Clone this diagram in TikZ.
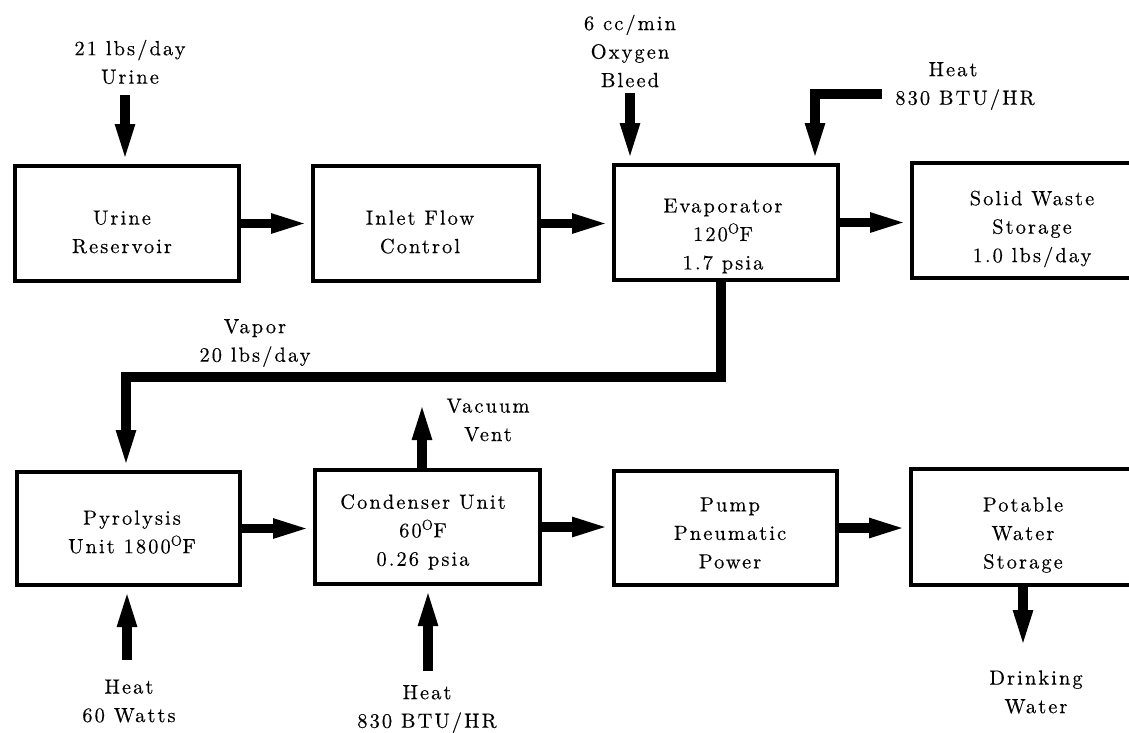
\documentclass[tikz,border=0pt]{standalone}
\usepackage{fontspec}
\newfontfamily\diagfont{lmroman10-regular.otf}[LetterSpace=10,FakeBold=0.3]
\usetikzlibrary{arrows.meta,calc}
\begin{document}
\begin{tikzpicture}[x=1pt,y=-1pt,
  box/.style={draw,line width=4pt,inner sep=0pt},
  txt/.style={align=center,inner sep=0pt,
    font=\diagfont\fontsize{20.5}{28.5}\selectfont},
  flow/.style={line width=9.5pt,line join=miter,
    -{Triangle[length=40pt,width=17pt]}}]
\clip (0,0) rectangle (1129,732);
\fill[white] (0,0) rectangle (1129,732);
% boxes
\node[box,minimum width=224pt,minimum height=115pt] (ur) at (127,223.5) {};
\node[box,minimum width=226pt,minimum height=115pt] (if) at (426,223.5) {};
\node[box,minimum width=224pt,minimum height=115pt] (ev) at (726,222.5) {};
\node[box,minimum width=236pt,minimum height=115pt] (sw) at (1030,220.5) {};
\node[box,minimum width=223pt,minimum height=113pt] (py) at (128.5,528.5) {};
\node[box,minimum width=225pt,minimum height=114pt] (co) at (427.5,527) {};
\node[box,minimum width=223pt,minimum height=114pt] (pu) at (725.5,528) {};
\node[box,minimum width=237pt,minimum height=116pt] (pw) at (1029.5,527) {};
% box texts
\node[txt] (t-ur) at (122,232) {Urine\\Reservoir};
\node[txt] (t-if) at (420,232) {Inlet Flow\\Control};
\node[txt] (t-ev) at (723,236) {Evaporator\\120\textsuperscript{O}F\\1.7 psia};
\node[txt] (t-sw) at (1032,229) {Solid Waste\\Storage\\1.0 lbs/day};
\node[txt] (t-py) at (132,532) {Pyrolysis\\Unit 1800\textsuperscript{O}F};
\node[txt] (t-co) at (423,532) {Condenser Unit\\60\textsuperscript{O}F\\0.26 psia};
\node[txt] (t-pu) at (730,533) {Pump\\Pneumatic\\Power};
\node[txt] (t-pw) at (1023,535) {Potable\\Water\\Storage};
% free ends
\coordinate (uin) at (125,95);
\coordinate (oin) at (630,93);
\coordinate (hin) at (882,94);
\coordinate (vap) at (126,377);
\coordinate (vv) at (422,400);
\coordinate (hpy) at (127,660);
\coordinate (hco) at (428,671);
\coordinate (dw) at (1023,650);
% connectors
\draw[flow] (uin) -- (uin |- ur.north);
\draw[flow] (ur.east) -- (ur.east -| if.west);
\draw[flow] (if.east) -- (if.east -| ev.west);
\draw[flow] (ev.east) -- (ev.east -| sw.west);
\draw[flow] (oin) -- (oin |- ev.north);
\draw[flow] (hin) -| ($(ev.north)+(89,0)$);
\draw[flow] ($(ev.south)+(-5,0)$) |- (vap) -- (vap |- py.north);
\draw[flow] (py.east) -- (py.east -| co.west);
\draw[flow] (co.east) -- (co.east -| pu.west);
\draw[flow] (pu.east) -- (pu.east -| pw.west);
\draw[flow] (vv |- co.north) -- (vv);
\draw[flow] (hpy) -- (hpy |- py.south);
\draw[flow] (hco) -- (hco |- co.south);
\draw[flow] (dw |- pw.south) -- (dw);
% labels
\node[txt] (l-urine) at (130,62) {21 lbs/day\\Urine};
\node[txt] (l-oxy) at (630,51) {6 cc/min\\Oxygen\\Bleed};
\node[txt] (l-heat1) at (965,86) {Heat\hspace*{24pt}\\830 BTU/HR};
\node[txt] (l-vapor) at (255,343) {Vapor\\20 lbs/day};
\node[txt] (l-vac) at (488,420) {Vacuum\\Vent};
\node[txt] (l-heat2) at (129,701) {Heat\\60 Watts};
\node[txt] (l-heat3) at (427,709) {Heat\\830 BTU/HR};
\node[txt] (l-drink) at (1036,692) {Drinking\\Water};
\end{tikzpicture}
\end{document}
